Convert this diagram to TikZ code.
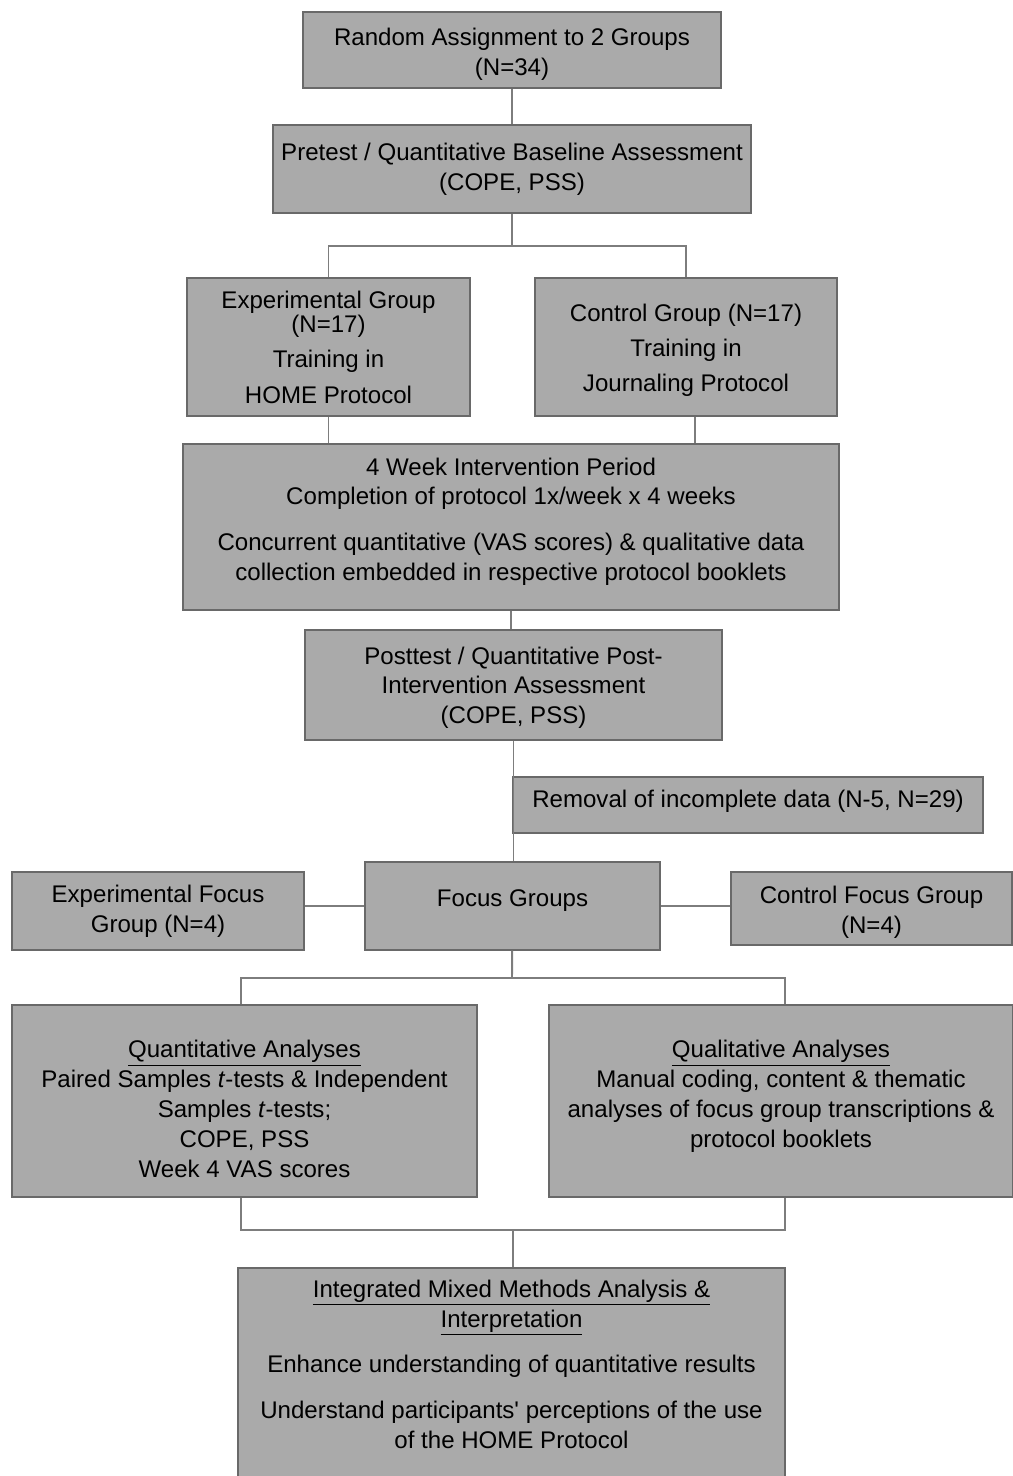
\documentclass[tikz,border=0pt]{standalone}
\usepackage{fontspec}
\setmainfont{Liberation Sans}
\usetikzlibrary{calc}
\definecolor{boxfill}{RGB}{170,170,170}
\definecolor{boxline}{RGB}{105,105,105}
\definecolor{linkgray}{RGB}{125,125,125}

\tikzset{
  stage/.style={draw=boxline, line width=0.8pt, fill=boxfill, align=center,
    inner sep=0pt, font=\fontsize{13.7}{17}\selectfont},
  link/.style={draw=linkgray, line width=1.1pt}
}

\begin{document}
\begin{tikzpicture}[x=0.02cm,y=-0.02cm]
\useasboundingbox (0,0) rectangle (1013,1476);

% stages
\node[stage, minimum width=8.36cm, minimum height=1.52cm] (random) at (512,50)
  {\rule{0pt}{15pt}Random Assignment to 2 Groups\\(N=34)};
\node[stage, minimum width=9.56cm, minimum height=1.76cm] (pre) at (512,169)
  {Pretest / Quantitative Baseline Assessment\\(COPE, PSS)};
\node[stage, minimum width=5.66cm, minimum height=2.76cm] (exp) at (328.5,347)
  {Experimental Group\\[-3pt](N=17)\\[3pt]Training in\\[3pt]HOME Protocol};
\node[stage, minimum width=6.04cm, minimum height=2.76cm] (ctrl) at (686,347)
  {\rule{0pt}{14pt}Control Group (N=17)\\[3pt]Training in\\[3pt]Journaling Protocol};
\node[stage, minimum width=13.12cm, minimum height=3.32cm] (week) at (511,527)
  {4 Week Intervention Period\\Completion of protocol 1x/week x 4 weeks\\[9pt]
   Concurrent quantitative (VAS scores) \& qualitative data\\
   collection embedded in respective protocol booklets\\[-8pt]\mbox{}};
\node[stage, minimum width=8.34cm, minimum height=2.2cm] (post) at (513.5,685)
  {\rule{0pt}{13pt}Posttest / Quantitative Post-\\Intervention Assessment\\(COPE, PSS)};
\node[stage, minimum width=9.4cm, minimum height=1.12cm] (removal) at (748,805)
  {Removal of incomplete data (N-5, N=29)\\[-10pt]\mbox{}};

% focus groups
\node[stage, minimum width=5.9cm, minimum height=1.76cm] (focus) at (512.5,906)
  {Focus Groups\\[-8pt]\mbox{}};
\node[stage, minimum width=5.84cm, minimum height=1.56cm] (expfoc) at (158,911)
  {Experimental Focus\\Group (N=4)};
\node[stage, minimum width=5.62cm, minimum height=1.46cm] (ctrlfoc) at (871.5,908.5)
  {\rule{0pt}{14pt}Control Focus Group\\(N=4)};

% analyses
\node[stage, minimum width=9.3cm, minimum height=3.84cm] (quant) at (244.5,1101)
  {\rule{0pt}{19pt}\underline{Quantitative Analyses}\\Paired Samples \textit{t}-tests \& Independent\\
   Samples \textit{t}-tests;\\COPE, PSS\\Week 4 VAS scores};
\node[stage, minimum width=9.28cm, minimum height=3.84cm] (qual) at (781,1101)
  {\underline{Qualitative Analyses}\\Manual coding, content \& thematic\\
   analyses of focus group transcriptions \&\\protocol booklets\\[-9pt]\mbox{}};
\node[stage, minimum width=10.94cm, minimum height=4.44cm] (integ) at (511.5,1379)
  {\underline{Integrated Mixed Methods Analysis \&}\\\underline{Interpretation}\\[9pt]
   Enhance understanding of quantitative results\\[9pt]
   Understand participants\textquotesingle\ perceptions of the use\\of the HOME Protocol\\[0pt]\mbox{}};

% connectors
\coordinate (split1) at (512,246);
\coordinate (split2) at (512,978);
\coordinate (join) at (513,1230);
\draw[link] (random) -- (pre);
\draw[link] (pre) -- (split1);
\draw[link] (split1) -| (exp);
\draw[link] (split1) -| (ctrl);
\draw[link] (exp.south) -- (exp.south |- week.north);
\draw[link] ([xshift=0.18cm]ctrl.south) -- ([xshift=0.18cm]ctrl.south |- week.north);
\draw[link] (week.south) -- (week.south |- post.north);
\draw[link] (post.south) -- (post.south |- focus.north);
\draw[link] (focus.west) -- (focus.west -| expfoc.east);
\draw[link] (focus.east) -- (focus.east -| ctrlfoc.west);
\draw[link] (focus) -- (split2);
\draw[link] (split2) -| ([xshift=-0.07cm]quant.north);
\draw[link] (split2) -| ([xshift=0.08cm]qual.north);
\draw[link] ([xshift=-0.07cm]quant.south) |- (join);
\draw[link] ([xshift=0.08cm]qual.south) |- (join);
\draw[link] (join) -- (join |- integ.north);
\end{tikzpicture}
\end{document}
